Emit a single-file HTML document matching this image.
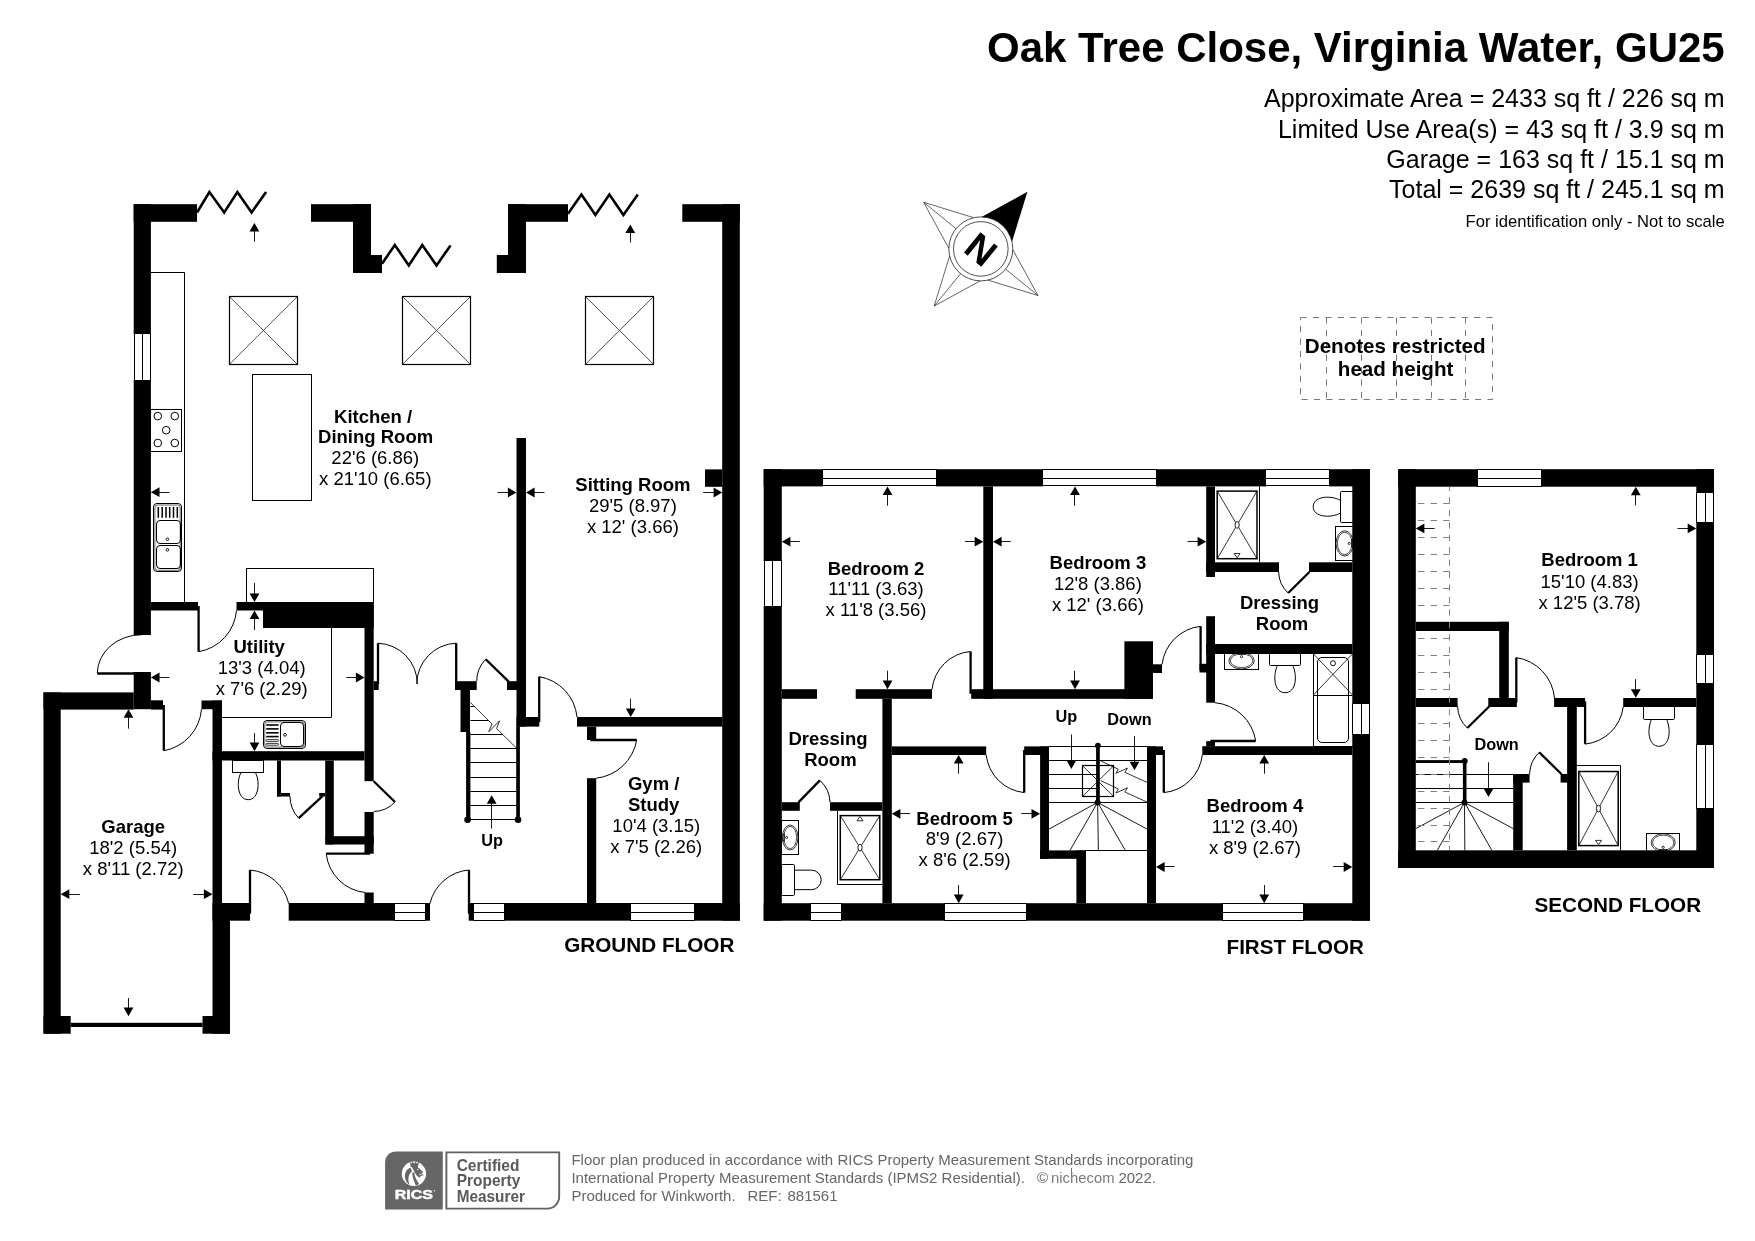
<!DOCTYPE html>
<html><head><meta charset="utf-8"><title>Oak Tree Close, Virginia Water, GU25</title>
<style>
html,body{margin:0;padding:0;background:#fff;}
body{width:1755px;height:1241px;overflow:hidden;font-family:"Liberation Sans",sans-serif;}
svg{display:block;font-family:"Liberation Sans",sans-serif;will-change:transform;}
</style></head><body>
<svg width="1755" height="1241" viewBox="0 0 1755 1241">
<rect x="0" y="0" width="1755" height="1241" fill="#fff"/>
<g id="header">
<text x="1724.7" y="62" font-size="42" font-weight="bold" text-anchor="end" fill="#000">Oak Tree Close, Virginia Water, GU25</text>
<text x="1724.7" y="107.4" font-size="25" text-anchor="end" fill="#000">Approximate Area = 2433 sq ft / 226 sq m</text>
<text x="1724.7" y="138" font-size="25" text-anchor="end" fill="#000">Limited Use Area(s) = 43 sq ft / 3.9 sq m</text>
<text x="1724.7" y="168.4" font-size="25" text-anchor="end" fill="#000">Garage = 163 sq ft / 15.1 sq m</text>
<text x="1724.7" y="198.4" font-size="25" text-anchor="end" fill="#000">Total = 2639 sq ft / 245.1 sq m</text>
<text x="1724.7" y="226.5" font-size="16.6" text-anchor="end" fill="#000">For identification only - Not to scale</text>
</g>
<g id="ground">
<path d="M150.9 272.5 H184.5 V602" fill="none" stroke="#000" stroke-width="1"/>
<rect x="150.5" y="409.5" width="31" height="42" fill="none" stroke="#000" stroke-width="1"/>
<circle cx="157.8" cy="416.1" r="3.8" fill="none" stroke="#000" stroke-width="1"/>
<circle cx="174.8" cy="416.1" r="3.8" fill="none" stroke="#000" stroke-width="1"/>
<circle cx="166.2" cy="430.2" r="3.8" fill="none" stroke="#000" stroke-width="1"/>
<circle cx="157.8" cy="443" r="3.8" fill="none" stroke="#000" stroke-width="1"/>
<circle cx="174.8" cy="443" r="3.8" fill="none" stroke="#000" stroke-width="1"/>
<rect x="153.5" y="503.5" width="28" height="68" fill="none" stroke="#000" stroke-width="1" rx="3.5"/>
<rect x="154.9" y="505" width="25.3" height="65.3" fill="none" stroke="#000" stroke-width="0.6" rx="2.8"/>
<line x1="158.3" y1="507" x2="158.3" y2="517.8" stroke="#000" stroke-width="1.5"/>
<line x1="162.2" y1="507" x2="162.2" y2="517.8" stroke="#000" stroke-width="1.5"/>
<line x1="166" y1="507" x2="166" y2="517.8" stroke="#000" stroke-width="1.5"/>
<line x1="169.7" y1="507" x2="169.7" y2="517.8" stroke="#000" stroke-width="1.5"/>
<line x1="173.5" y1="507" x2="173.5" y2="517.8" stroke="#000" stroke-width="1.5"/>
<line x1="177.3" y1="507" x2="177.3" y2="517.8" stroke="#000" stroke-width="1.5"/>
<rect x="156.5" y="520.5" width="24" height="23" fill="none" stroke="#000" stroke-width="1" rx="3.5"/>
<rect x="156.5" y="545.5" width="24" height="23" fill="none" stroke="#000" stroke-width="1" rx="3.5"/>
<circle cx="167.4" cy="539.3" r="1.3" fill="none" stroke="#000" stroke-width="0.9"/>
<circle cx="167.4" cy="549.8" r="1.3" fill="none" stroke="#000" stroke-width="0.9"/>
<rect x="229.5" y="296.5" width="68" height="68" fill="none" stroke="#000" stroke-width="1.2"/>
<line x1="229.2" y1="296.3" x2="297.6" y2="364.6" stroke="#222" stroke-width="0.8"/>
<line x1="229.2" y1="364.6" x2="297.6" y2="296.3" stroke="#222" stroke-width="0.8"/>
<rect x="402.5" y="296.5" width="68" height="68" fill="none" stroke="#000" stroke-width="1.2"/>
<line x1="402.3" y1="296.3" x2="470.7" y2="364.6" stroke="#222" stroke-width="0.8"/>
<line x1="402.3" y1="364.6" x2="470.7" y2="296.3" stroke="#222" stroke-width="0.8"/>
<rect x="585.5" y="296.5" width="68" height="68" fill="none" stroke="#000" stroke-width="1.2"/>
<line x1="585.2" y1="296.3" x2="653.8" y2="364.6" stroke="#222" stroke-width="0.8"/>
<line x1="585.2" y1="364.6" x2="653.8" y2="296.3" stroke="#222" stroke-width="0.8"/>
<rect x="252.5" y="374.5" width="59" height="126" fill="none" stroke="#000" stroke-width="1"/>
<rect x="246.5" y="568.5" width="127" height="34" fill="none" stroke="#000" stroke-width="1"/>
<path d="M331.5 628 V717.5 H222" fill="none" stroke="#000" stroke-width="1"/>
<rect x="263.5" y="720.5" width="42" height="28" fill="none" stroke="#000" stroke-width="1" rx="3.5"/>
<rect x="264.8" y="721.9" width="39.4" height="25.2" fill="none" stroke="#000" stroke-width="0.6" rx="2.8"/>
<rect x="280.5" y="722.5" width="23" height="24" fill="none" stroke="#000" stroke-width="1" rx="3.5"/>
<line x1="266.2" y1="725" x2="278.6" y2="725" stroke="#000" stroke-width="1.6"/>
<line x1="266.2" y1="728.9" x2="278.6" y2="728.9" stroke="#000" stroke-width="1.6"/>
<line x1="266.2" y1="732.8" x2="278.6" y2="732.8" stroke="#000" stroke-width="1.6"/>
<line x1="266.2" y1="736.6" x2="278.6" y2="736.6" stroke="#000" stroke-width="1.6"/>
<rect x="266.2" y="739.6" width="12.4" height="1.8" fill="none" stroke="#000" stroke-width="0.8" rx="0.9"/>
<rect x="266.2" y="743.4" width="12.4" height="1.8" fill="none" stroke="#000" stroke-width="0.8" rx="0.9"/>
<circle cx="285" cy="734.8" r="1.4" fill="none" stroke="#000" stroke-width="0.9"/>
<rect x="232.5" y="760.5" width="31" height="12" fill="none" stroke="#000" stroke-width="1"/>
<path d="M241 772.7 C236.5 780 236.8 799.7 248.2 799.7 C259.6 799.7 259.9 780 255.4 772.7" fill="none" stroke="#000" stroke-width="1"/>
<line x1="470.4" y1="734.5" x2="502.5" y2="734.5" stroke="#000" stroke-width="1"/>
<line x1="470.4" y1="748.5" x2="516.7" y2="748.5" stroke="#000" stroke-width="1"/>
<line x1="470.4" y1="762.5" x2="516.4" y2="762.5" stroke="#000" stroke-width="1"/>
<line x1="470.4" y1="777.5" x2="516.4" y2="777.5" stroke="#000" stroke-width="1"/>
<line x1="470.4" y1="791.5" x2="516.4" y2="791.5" stroke="#000" stroke-width="1"/>
<line x1="470.4" y1="805.5" x2="516.4" y2="805.5" stroke="#000" stroke-width="1"/>
<line x1="470.4" y1="819.5" x2="516.4" y2="819.5" stroke="#000" stroke-width="1"/>
<line x1="470.4" y1="720.5" x2="488.3" y2="720.5" stroke="#000" stroke-width="1"/>
<line x1="470.4" y1="706.5" x2="474" y2="706.5" stroke="#000" stroke-width="1"/>
<path d="M470.4 702.5 L492 724 L488.8 731.8 L499.5 720.8 L496.6 728.6 L516.4 748" fill="none" stroke="#000" stroke-width="0.8"/>
<rect x="466.1" y="732" width="4.3" height="87.8" fill="#000"/>
<rect x="516.2" y="726.5" width="3.7" height="93.3" fill="#000"/>
<circle cx="467.6" cy="819.7" r="3.3" fill="#000" stroke="none" stroke-width="1"/>
<circle cx="518" cy="819.7" r="3.3" fill="#000" stroke="none" stroke-width="1"/>
<line x1="491.5" y1="828.5" x2="491.5" y2="802.08" stroke="#000" stroke-width="0.9"/>
<polygon points="491.7,795.2 496.6,803.8 486.8,803.8" fill="#000"/>
<text x="492" y="845.6" font-size="16.3" font-weight="bold" text-anchor="middle" fill="#000">Up</text>
<rect x="133.7" y="204.2" width="17.2" height="129.4" fill="#000"/>
<rect x="133.7" y="380.6" width="17.2" height="254.4" fill="#000"/>
<rect x="133.7" y="672" width="17.2" height="37.2" fill="#000"/>
<rect x="133.7" y="333.6" width="17.2" height="47" fill="#fff"/>
<line x1="134.5" y1="333.6" x2="134.5" y2="380.6" stroke="#000" stroke-width="1"/>
<line x1="142.5" y1="333.6" x2="142.5" y2="380.6" stroke="#000" stroke-width="1"/>
<line x1="150.5" y1="333.6" x2="150.5" y2="380.6" stroke="#000" stroke-width="1"/>
<line x1="133.7" y1="333.5" x2="150.9" y2="333.5" stroke="#000" stroke-width="1"/>
<line x1="133.7" y1="380.5" x2="150.9" y2="380.5" stroke="#000" stroke-width="1"/>
<rect x="133.7" y="204.2" width="63.3" height="17.6" fill="#000"/>
<rect x="311" y="204.2" width="60" height="17.6" fill="#000"/>
<rect x="353" y="204.2" width="18" height="68.8" fill="#000"/>
<rect x="353" y="255" width="29" height="18" fill="#000"/>
<rect x="508" y="204.2" width="60" height="17.6" fill="#000"/>
<rect x="508" y="204.2" width="18" height="68.8" fill="#000"/>
<rect x="496.8" y="255" width="29.2" height="18" fill="#000"/>
<rect x="682.3" y="204.2" width="57.5" height="17.6" fill="#000"/>
<rect x="722.2" y="204.2" width="17.6" height="716.5" fill="#000"/>
<rect x="705" y="469.4" width="17.2" height="17.4" fill="#000"/>
<rect x="516.5" y="438" width="9.5" height="288.6" fill="#000"/>
<rect x="516.5" y="717" width="22.8" height="9.6" fill="#000"/>
<rect x="577" y="717" width="145.2" height="9.6" fill="#000"/>
<rect x="587" y="726.6" width="9.2" height="13.4" fill="#000"/>
<rect x="587" y="778.2" width="9.2" height="124.8" fill="#000"/>
<rect x="212.5" y="903" width="37.5" height="17.7" fill="#000"/>
<rect x="288.7" y="903" width="106.3" height="17.7" fill="#000"/>
<rect x="395" y="903" width="30.7" height="17.7" fill="#fff"/>
<line x1="395" y1="903.5" x2="425.7" y2="903.5" stroke="#000" stroke-width="1"/>
<line x1="395" y1="912.5" x2="425.7" y2="912.5" stroke="#000" stroke-width="1"/>
<line x1="395" y1="920.5" x2="425.7" y2="920.5" stroke="#000" stroke-width="1"/>
<line x1="394.5" y1="903" x2="394.5" y2="920.7" stroke="#000" stroke-width="1"/>
<line x1="425.5" y1="903" x2="425.5" y2="920.7" stroke="#000" stroke-width="1"/>
<rect x="425.7" y="903" width="4.3" height="17.7" fill="#000"/>
<rect x="468.7" y="903" width="5" height="17.7" fill="#000"/>
<rect x="473.7" y="903" width="30.3" height="17.7" fill="#fff"/>
<line x1="473.7" y1="903.5" x2="504" y2="903.5" stroke="#000" stroke-width="1"/>
<line x1="473.7" y1="912.5" x2="504" y2="912.5" stroke="#000" stroke-width="1"/>
<line x1="473.7" y1="920.5" x2="504" y2="920.5" stroke="#000" stroke-width="1"/>
<line x1="473.5" y1="903" x2="473.5" y2="920.7" stroke="#000" stroke-width="1"/>
<line x1="504.5" y1="903" x2="504.5" y2="920.7" stroke="#000" stroke-width="1"/>
<rect x="504" y="903" width="126" height="17.7" fill="#000"/>
<rect x="630" y="903" width="64.2" height="17.7" fill="#fff"/>
<line x1="630" y1="903.5" x2="694.2" y2="903.5" stroke="#000" stroke-width="1"/>
<line x1="630" y1="912.5" x2="694.2" y2="912.5" stroke="#000" stroke-width="1"/>
<line x1="630" y1="920.5" x2="694.2" y2="920.5" stroke="#000" stroke-width="1"/>
<line x1="630.5" y1="903" x2="630.5" y2="920.7" stroke="#000" stroke-width="1"/>
<line x1="694.5" y1="903" x2="694.5" y2="920.7" stroke="#000" stroke-width="1"/>
<rect x="694.2" y="903" width="45.6" height="17.7" fill="#000"/>
<rect x="150.9" y="602" width="47.1" height="8.5" fill="#000"/>
<rect x="236.5" y="602" width="26.5" height="8.5" fill="#000"/>
<rect x="263" y="602" width="110.7" height="26" fill="#000"/>
<rect x="364.5" y="602" width="9.2" height="179.2" fill="#000"/>
<rect x="364.5" y="812" width="9.2" height="41.7" fill="#000"/>
<rect x="364.5" y="892.5" width="9.2" height="10.5" fill="#000"/>
<rect x="212.5" y="751.2" width="152" height="9.3" fill="#000"/>
<rect x="43.5" y="692.4" width="90.2" height="17.2" fill="#000"/>
<rect x="150.9" y="700.3" width="12.1" height="9.3" fill="#000"/>
<rect x="43.5" y="692.5" width="17.2" height="341.2" fill="#000"/>
<rect x="43.5" y="1016" width="27.2" height="17.7" fill="#000"/>
<rect x="202.5" y="1016" width="27.5" height="17.7" fill="#000"/>
<rect x="70.7" y="1022.8" width="131.8" height="4.2" fill="#000"/>
<rect x="212.5" y="700.5" width="9.5" height="202.5" fill="#000"/>
<rect x="212.5" y="903" width="17.5" height="130.7" fill="#000"/>
<rect x="201.5" y="700.5" width="20.5" height="8.7" fill="#000"/>
<rect x="277" y="760.5" width="4" height="36" fill="#000"/>
<rect x="277" y="793" width="13" height="3.5" fill="#000"/>
<rect x="319.2" y="793" width="6.1" height="3.5" fill="#000"/>
<rect x="325.2" y="760.5" width="8.6" height="84" fill="#000"/>
<rect x="325.5" y="836.2" width="48.2" height="8.3" fill="#000"/>
<rect x="373.7" y="681.2" width="5" height="8.8" fill="#000"/>
<rect x="455" y="681.2" width="21.7" height="8.8" fill="#000"/>
<rect x="460.5" y="690" width="9.5" height="42" fill="#000"/>
<rect x="507" y="681.2" width="10" height="8.8" fill="#000"/>
<path d="M197 212.5 L209.4 192 L224.2 212.5 L237.4 192 L251.6 212.5 L266.1 192" fill="none" stroke="#000" stroke-width="2.6"/>
<path d="M382 263.7 L394.8 245 L408.8 265.4 L422.3 245 L436.5 265.4 L450.5 245.5" fill="none" stroke="#000" stroke-width="2.6"/>
<path d="M568 213.7 L581.4 194.5 L595.4 215 L609.4 194.5 L623.4 215 L637.8 194.5" fill="none" stroke="#000" stroke-width="2.6"/>
<line x1="198.6" y1="606" x2="198.6" y2="651.7" stroke="#000" stroke-width="2.3"/>
<path d="M198.6 651.7 A45.7 45.7 0 0 0 236.5 610.5" fill="none" stroke="#000" stroke-width="1"/>
<line x1="143" y1="673.5" x2="97.3" y2="673.5" stroke="#000" stroke-width="2.4"/>
<path d="M97.3 673.5 A44.5 38.8 0 0 1 141.8 634.7" fill="none" stroke="#000" stroke-width="1"/>
<line x1="163.8" y1="705" x2="163.8" y2="750.7" stroke="#000" stroke-width="2.3"/>
<path d="M163.8 750.7 A45.7 45.7 0 0 0 201.5 709.2" fill="none" stroke="#000" stroke-width="1"/>
<line x1="378" y1="684" x2="378" y2="643.2" stroke="#000" stroke-width="2.3"/>
<path d="M378 643.2 A40.8 40.8 0 0 1 417.3 684" fill="none" stroke="#000" stroke-width="1"/>
<line x1="456.2" y1="684" x2="456.2" y2="643.2" stroke="#000" stroke-width="2.3"/>
<path d="M456.2 643.2 A40.8 40.8 0 0 0 416.8 684" fill="none" stroke="#000" stroke-width="1"/>
<line x1="508.7" y1="681.6" x2="485.7" y2="659.2" stroke="#000" stroke-width="2.3"/>
<path d="M485.7 659.2 A32.11 32.11 0 0 0 476.7 681.2" fill="none" stroke="#000" stroke-width="1"/>
<line x1="539.2" y1="722" x2="539.2" y2="676.7" stroke="#000" stroke-width="2.3"/>
<path d="M539.2 676.7 A45.3 45.3 0 0 1 577 717" fill="none" stroke="#000" stroke-width="1"/>
<line x1="590.5" y1="740" x2="636.7" y2="740" stroke="#000" stroke-width="2.3"/>
<path d="M636.7 740 A46.2 46.2 0 0 1 596.2 778.2" fill="none" stroke="#000" stroke-width="1"/>
<line x1="322.5" y1="796.2" x2="298.7" y2="818.2" stroke="#000" stroke-width="2.3"/>
<path d="M298.7 818.2 A32.41 32.41 0 0 1 290 796.2" fill="none" stroke="#000" stroke-width="1"/>
<line x1="373.7" y1="781.2" x2="395" y2="802" stroke="#000" stroke-width="2.3"/>
<path d="M395 802 A29.77 29.77 0 0 1 373.7 811.5" fill="none" stroke="#000" stroke-width="1"/>
<line x1="370" y1="853.7" x2="326.2" y2="853.7" stroke="#000" stroke-width="2.3"/>
<path d="M326.2 853.7 A43.8 43.8 0 0 0 365 892.5" fill="none" stroke="#000" stroke-width="1"/>
<line x1="250" y1="913.7" x2="250" y2="870" stroke="#000" stroke-width="2.3"/>
<path d="M250 870 A43.7 43.7 0 0 1 288.7 903.5" fill="none" stroke="#000" stroke-width="1"/>
<line x1="469" y1="913.7" x2="469" y2="870" stroke="#000" stroke-width="2.3"/>
<path d="M469 870 A43.7 43.7 0 0 0 430 903.5" fill="none" stroke="#000" stroke-width="1"/>
<line x1="254.5" y1="241.7" x2="254.5" y2="229.88" stroke="#000" stroke-width="0.9"/>
<polygon points="254.4,223 259.3,231.6 249.5,231.6" fill="#000"/>
<line x1="630.5" y1="242.5" x2="630.5" y2="231.38" stroke="#000" stroke-width="0.9"/>
<polygon points="630.3,224.5 635.2,233.1 625.4,233.1" fill="#000"/>
<line x1="169.5" y1="492.5" x2="157.78" y2="492.5" stroke="#000" stroke-width="0.9"/>
<polygon points="150.9,492.2 159.5,487.3 159.5,497.1" fill="#000"/>
<line x1="497.5" y1="492.5" x2="509.62" y2="492.5" stroke="#000" stroke-width="0.9"/>
<polygon points="516.5,492.5 507.9,497.4 507.9,487.6" fill="#000"/>
<line x1="544.5" y1="492.5" x2="532.88" y2="492.5" stroke="#000" stroke-width="0.9"/>
<polygon points="526,492.5 534.6,487.6 534.6,497.4" fill="#000"/>
<line x1="703.2" y1="492.5" x2="715.32" y2="492.5" stroke="#000" stroke-width="0.9"/>
<polygon points="722.2,492.5 713.6,497.4 713.6,487.6" fill="#000"/>
<line x1="254.5" y1="583" x2="254.5" y2="595.12" stroke="#000" stroke-width="0.9"/>
<polygon points="254.5,602 249.6,593.4 259.4,593.4" fill="#000"/>
<line x1="254.5" y1="630" x2="254.5" y2="617.38" stroke="#000" stroke-width="0.9"/>
<polygon points="254.5,610.5 259.4,619.1 249.6,619.1" fill="#000"/>
<line x1="169.5" y1="677.5" x2="157.78" y2="677.5" stroke="#000" stroke-width="0.9"/>
<polygon points="150.9,677.5 159.5,672.6 159.5,682.4" fill="#000"/>
<line x1="346.2" y1="677.5" x2="357.62" y2="677.5" stroke="#000" stroke-width="0.9"/>
<polygon points="364.5,677.5 355.9,682.4 355.9,672.6" fill="#000"/>
<line x1="254.5" y1="733" x2="254.5" y2="744.32" stroke="#000" stroke-width="0.9"/>
<polygon points="254.5,751.2 249.6,742.6 259.4,742.6" fill="#000"/>
<line x1="128.5" y1="728.7" x2="128.5" y2="716.08" stroke="#000" stroke-width="0.9"/>
<polygon points="128.5,709.2 133.4,717.8 123.6,717.8" fill="#000"/>
<line x1="80" y1="894.5" x2="67.58" y2="894.5" stroke="#000" stroke-width="0.9"/>
<polygon points="60.7,894.2 69.3,889.3 69.3,899.1" fill="#000"/>
<line x1="193.2" y1="894.5" x2="205.62" y2="894.5" stroke="#000" stroke-width="0.9"/>
<polygon points="212.5,894.2 203.9,899.1 203.9,889.3" fill="#000"/>
<line x1="128.5" y1="998" x2="128.5" y2="1009.32" stroke="#000" stroke-width="0.9"/>
<polygon points="128.5,1016.2 123.6,1007.6 133.4,1007.6" fill="#000"/>
<line x1="630.5" y1="698.7" x2="630.5" y2="710.12" stroke="#000" stroke-width="0.9"/>
<polygon points="630.7,717 625.8,708.4 635.6,708.4" fill="#000"/>
<text x="373.1" y="423" font-size="18.5" font-weight="bold" text-anchor="middle" fill="#000">Kitchen /</text>
<text x="375.6" y="443" font-size="18.5" font-weight="bold" text-anchor="middle" fill="#000">Dining Room</text>
<text x="375.3" y="464.2" font-size="18.5" text-anchor="middle" fill="#000">22'6 (6.86)</text>
<text x="375.3" y="485" font-size="18.5" text-anchor="middle" fill="#000">x 21'10 (6.65)</text>
<text x="632.9" y="490.5" font-size="18.5" font-weight="bold" text-anchor="middle" fill="#000">Sitting Room</text>
<text x="632.9" y="511.7" font-size="18.5" text-anchor="middle" fill="#000">29'5 (8.97)</text>
<text x="632.9" y="532.9" font-size="18.5" text-anchor="middle" fill="#000">x 12' (3.66)</text>
<text x="259.2" y="652.5" font-size="18.5" font-weight="bold" text-anchor="middle" fill="#000">Utility</text>
<text x="261.7" y="673.7" font-size="18.5" text-anchor="middle" fill="#000">13'3 (4.04)</text>
<text x="261.7" y="695" font-size="18.5" text-anchor="middle" fill="#000">x 7'6 (2.29)</text>
<text x="133.2" y="832.5" font-size="18.5" font-weight="bold" text-anchor="middle" fill="#000">Garage</text>
<text x="133.2" y="853.7" font-size="18.5" text-anchor="middle" fill="#000">18'2 (5.54)</text>
<text x="133.2" y="874.9" font-size="18.5" text-anchor="middle" fill="#000">x 8'11 (2.72)</text>
<text x="653.7" y="789.5" font-size="18.5" font-weight="bold" text-anchor="middle" fill="#000">Gym /</text>
<text x="653.7" y="810.65" font-size="18.5" font-weight="bold" text-anchor="middle" fill="#000">Study</text>
<text x="656.3" y="831.8" font-size="18.5" text-anchor="middle" fill="#000">10'4 (3.15)</text>
<text x="656.3" y="852.95" font-size="18.5" text-anchor="middle" fill="#000">x 7'5 (2.26)</text>
<text x="649.3" y="952" font-size="20.7" font-weight="bold" text-anchor="middle" fill="#000">GROUND FLOOR</text>
</g>
<g id="first">
<path d="M837.5 810.8 V884.5 H882.3" fill="none" stroke="#000" stroke-width="1"/>
<rect x="840.3" y="815.6" width="39.5" height="64.1" fill="none" stroke="#000" stroke-width="1.5"/>
<line x1="840.3" y1="815.6" x2="879.8" y2="879.7" stroke="#000" stroke-width="0.8"/>
<line x1="840.3" y1="879.7" x2="879.8" y2="815.6" stroke="#000" stroke-width="0.8"/>
<ellipse cx="860.05" cy="847.65" rx="2.1" ry="3.4" fill="#fff" stroke="#000" stroke-width="0.9"/>
<polygon points="857.05,820.8 863.05,820.8 860.05,816.5" fill="#fff" stroke="#000" stroke-width="0.8"/>
<rect x="781.5" y="820.5" width="17" height="34" fill="none" stroke="#000" stroke-width="1"/>
<ellipse cx="790.2" cy="837.5" rx="7.8" ry="12.5" fill="none" stroke="#000" stroke-width="0.8"/>
<ellipse cx="790.2" cy="837.5" rx="6.4" ry="11.1" fill="none" stroke="#000" stroke-width="0.7"/>
<circle cx="786.6" cy="837.5" r="1.1" fill="none" stroke="#000" stroke-width="0.8"/>
<rect x="783" y="833.9" width="1.4" height="7.2" fill="none" stroke="#000" stroke-width="0.7"/>
<rect x="781.5" y="864.5" width="13" height="31" fill="none" stroke="#000" stroke-width="1" rx="1.2"/>
<path d="M794.2 870.15 H811.45 A9.75 9.75 0 0 1 811.45 889.65 H794.2" fill="none" stroke="#000" stroke-width="1"/>
<line x1="1259.5" y1="486.4" x2="1259.5" y2="562.3" stroke="#000" stroke-width="1"/>
<rect x="1217.2" y="491.1" width="39.8" height="67.6" fill="none" stroke="#000" stroke-width="1.5"/>
<line x1="1217.2" y1="491.1" x2="1257" y2="558.7" stroke="#000" stroke-width="0.8"/>
<line x1="1217.2" y1="558.7" x2="1257" y2="491.1" stroke="#000" stroke-width="0.8"/>
<ellipse cx="1237.1" cy="524.9" rx="2.1" ry="3.4" fill="#fff" stroke="#000" stroke-width="0.9"/>
<polygon points="1234.1,553.5 1240.1,553.5 1237.1,557.8" fill="#fff" stroke="#000" stroke-width="0.8"/>
<rect x="1340.5" y="491.5" width="14" height="31" fill="none" stroke="#000" stroke-width="1" rx="1.2"/>
<path d="M1340.5 500.38 C1330.94 494.97 1313.2 495.99 1313.2 506.7 C1313.2 517.41 1330.94 518.43 1340.5 513.02" fill="none" stroke="#000" stroke-width="1"/>
<rect x="1335.5" y="526.5" width="19" height="34" fill="none" stroke="#000" stroke-width="1"/>
<ellipse cx="1344.7" cy="543.4" rx="8.7" ry="12.6" fill="none" stroke="#000" stroke-width="0.8"/>
<ellipse cx="1344.7" cy="543.4" rx="7.3" ry="11.2" fill="none" stroke="#000" stroke-width="0.7"/>
<circle cx="1349.2" cy="543.4" r="1.1" fill="none" stroke="#000" stroke-width="0.8"/>
<rect x="1351.4" y="539.8" width="1.4" height="7.2" fill="none" stroke="#000" stroke-width="0.7"/>
<rect x="1224.5" y="652.5" width="34" height="17" fill="none" stroke="#000" stroke-width="1"/>
<ellipse cx="1241.55" cy="660.75" rx="12.65" ry="8.25" fill="none" stroke="#000" stroke-width="0.8"/>
<ellipse cx="1241.55" cy="660.75" rx="11.25" ry="6.85" fill="none" stroke="#000" stroke-width="0.7"/>
<circle cx="1241.55" cy="656.7" r="1.1" fill="none" stroke="#000" stroke-width="0.8"/>
<rect x="1237.95" y="653.1" width="7.2" height="1.4" fill="none" stroke="#000" stroke-width="0.7"/>
<rect x="1269.5" y="652.5" width="31" height="13" fill="none" stroke="#000" stroke-width="1" rx="1.2"/>
<path d="M1277.3 665.7 C1272.62 676.5 1274.18 692.7 1285.1 692.7 C1296.02 692.7 1297.58 676.5 1292.9 665.7" fill="none" stroke="#000" stroke-width="1"/>
<rect x="1313.5" y="652.5" width="41" height="94" fill="none" stroke="#000" stroke-width="1"/>
<line x1="1313.6" y1="654" x2="1352.3" y2="694.8" stroke="#000" stroke-width="0.8"/>
<line x1="1313.6" y1="694.8" x2="1352.3" y2="654" stroke="#000" stroke-width="0.8"/>
<line x1="1313.6" y1="695.5" x2="1352.3" y2="695.5" stroke="#000" stroke-width="1.2"/>
<rect x="1317.5" y="657.5" width="31" height="85" fill="none" stroke="#000" stroke-width="1" rx="4.5"/>
<circle cx="1333" cy="663.2" r="2.5" fill="none" stroke="#000" stroke-width="0.9"/>
<line x1="1049" y1="746.5" x2="1147" y2="746.5" stroke="#000" stroke-width="1"/>
<line x1="1049" y1="760.5" x2="1147" y2="760.5" stroke="#000" stroke-width="1"/>
<line x1="1049" y1="774.5" x2="1097" y2="774.5" stroke="#000" stroke-width="1"/>
<line x1="1049" y1="788.5" x2="1097" y2="788.5" stroke="#000" stroke-width="1"/>
<line x1="1049" y1="802.5" x2="1147" y2="802.5" stroke="#000" stroke-width="1"/>
<line x1="1085" y1="850.5" x2="1147" y2="850.5" stroke="#000" stroke-width="1"/>
<line x1="1097.6" y1="802.4" x2="1049" y2="829.1" stroke="#000" stroke-width="0.9"/>
<line x1="1097.6" y1="802.4" x2="1070" y2="850.4" stroke="#000" stroke-width="0.9"/>
<line x1="1097.6" y1="802.4" x2="1098.4" y2="850.4" stroke="#000" stroke-width="0.9"/>
<line x1="1097.6" y1="802.4" x2="1125.3" y2="850.4" stroke="#000" stroke-width="0.9"/>
<line x1="1097.6" y1="802.4" x2="1147" y2="829.1" stroke="#000" stroke-width="0.9"/>
<rect x="1082.5" y="765.5" width="31" height="31" fill="none" stroke="#000" stroke-width="1.2"/>
<line x1="1082.4" y1="765.6" x2="1113.8" y2="796.6" stroke="#000" stroke-width="0.8"/>
<line x1="1082.4" y1="796.6" x2="1113.8" y2="765.6" stroke="#000" stroke-width="0.8"/>
<path d="M1100.8 761 L1118.4 769.2 L1115.9 773.3 L1127.5 768.1 L1124.8 772.3 L1147 782.3" fill="none" stroke="#000" stroke-width="0.8"/>
<path d="M1100.8 780.7 L1118.4 788.9 L1115.9 793 L1127.5 787.8 L1124.8 792 L1147 802" fill="none" stroke="#000" stroke-width="0.8"/>
<rect x="1096.1" y="745.5" width="3.7" height="57.1" fill="#000"/>
<circle cx="1097.9" cy="745.6" r="2.9" fill="#000" stroke="none" stroke-width="1"/>
<circle cx="1097.6" cy="802.4" r="2.9" fill="#000" stroke="none" stroke-width="1"/>
<line x1="1071.5" y1="734.5" x2="1071.5" y2="762.02" stroke="#000" stroke-width="0.9"/>
<polygon points="1071.4,768.9 1066.5,760.3 1076.3,760.3" fill="#000"/>
<line x1="1134.5" y1="735.9" x2="1134.5" y2="763.42" stroke="#000" stroke-width="0.9"/>
<polygon points="1134.5,770.3 1129.6,761.7 1139.4,761.7" fill="#000"/>
<text x="1066.4" y="721.8" font-size="16.3" font-weight="bold" text-anchor="middle" fill="#000">Up</text>
<text x="1129.5" y="724.8" font-size="16.3" font-weight="bold" text-anchor="middle" fill="#000">Down</text>
<rect x="763.7" y="469.2" width="18.1" height="91.3" fill="#000"/>
<rect x="763.7" y="607" width="18.1" height="313.7" fill="#000"/>
<rect x="763.7" y="560.5" width="18.1" height="46.5" fill="#fff"/>
<line x1="764.5" y1="560.5" x2="764.5" y2="607" stroke="#000" stroke-width="1"/>
<line x1="772.5" y1="560.5" x2="772.5" y2="607" stroke="#000" stroke-width="1"/>
<line x1="781.5" y1="560.5" x2="781.5" y2="607" stroke="#000" stroke-width="1"/>
<line x1="763.7" y1="560.5" x2="781.8" y2="560.5" stroke="#000" stroke-width="1"/>
<line x1="763.7" y1="606.5" x2="781.8" y2="606.5" stroke="#000" stroke-width="1"/>
<rect x="763.7" y="469.2" width="58.8" height="17.2" fill="#000"/>
<rect x="937" y="469.2" width="105" height="17.2" fill="#000"/>
<rect x="1157" y="469.2" width="108.8" height="17.2" fill="#000"/>
<rect x="1329.6" y="469.2" width="40.4" height="17.2" fill="#000"/>
<rect x="822.5" y="469.2" width="114.5" height="17.2" fill="#fff"/>
<line x1="822.5" y1="469.5" x2="937" y2="469.5" stroke="#000" stroke-width="1"/>
<line x1="822.5" y1="478.5" x2="937" y2="478.5" stroke="#000" stroke-width="1"/>
<line x1="822.5" y1="485.5" x2="937" y2="485.5" stroke="#000" stroke-width="1"/>
<line x1="822.5" y1="469.2" x2="822.5" y2="486.4" stroke="#000" stroke-width="1"/>
<line x1="936.5" y1="469.2" x2="936.5" y2="486.4" stroke="#000" stroke-width="1"/>
<rect x="1042" y="469.2" width="115" height="17.2" fill="#fff"/>
<line x1="1042" y1="469.5" x2="1157" y2="469.5" stroke="#000" stroke-width="1"/>
<line x1="1042" y1="478.5" x2="1157" y2="478.5" stroke="#000" stroke-width="1"/>
<line x1="1042" y1="485.5" x2="1157" y2="485.5" stroke="#000" stroke-width="1"/>
<line x1="1042.5" y1="469.2" x2="1042.5" y2="486.4" stroke="#000" stroke-width="1"/>
<line x1="1156.5" y1="469.2" x2="1156.5" y2="486.4" stroke="#000" stroke-width="1"/>
<rect x="1265.8" y="469.2" width="63.8" height="17.2" fill="#fff"/>
<line x1="1265.8" y1="469.5" x2="1329.6" y2="469.5" stroke="#000" stroke-width="1"/>
<line x1="1265.8" y1="478.5" x2="1329.6" y2="478.5" stroke="#000" stroke-width="1"/>
<line x1="1265.8" y1="485.5" x2="1329.6" y2="485.5" stroke="#000" stroke-width="1"/>
<line x1="1265.5" y1="469.2" x2="1265.5" y2="486.4" stroke="#000" stroke-width="1"/>
<line x1="1329.5" y1="469.2" x2="1329.5" y2="486.4" stroke="#000" stroke-width="1"/>
<rect x="1352.3" y="469.2" width="17.7" height="234.5" fill="#000"/>
<rect x="1352.3" y="734.2" width="17.7" height="186.5" fill="#000"/>
<rect x="1352.3" y="703.7" width="17.7" height="30.5" fill="#fff"/>
<line x1="1352.5" y1="703.7" x2="1352.5" y2="734.2" stroke="#000" stroke-width="1"/>
<line x1="1361.5" y1="703.7" x2="1361.5" y2="734.2" stroke="#000" stroke-width="1"/>
<line x1="1369.5" y1="703.7" x2="1369.5" y2="734.2" stroke="#000" stroke-width="1"/>
<line x1="1352.3" y1="703.5" x2="1370" y2="703.5" stroke="#000" stroke-width="1"/>
<line x1="1352.3" y1="734.5" x2="1370" y2="734.5" stroke="#000" stroke-width="1"/>
<rect x="763.7" y="903.2" width="47.1" height="17.5" fill="#000"/>
<rect x="841.2" y="903.2" width="103.8" height="17.5" fill="#000"/>
<rect x="1026.3" y="903.2" width="195.7" height="17.5" fill="#000"/>
<rect x="1303.3" y="903.2" width="66.7" height="17.5" fill="#000"/>
<rect x="810.8" y="903.2" width="30.4" height="17.5" fill="#fff"/>
<line x1="810.8" y1="903.5" x2="841.2" y2="903.5" stroke="#000" stroke-width="1"/>
<line x1="810.8" y1="912.5" x2="841.2" y2="912.5" stroke="#000" stroke-width="1"/>
<line x1="810.8" y1="920.5" x2="841.2" y2="920.5" stroke="#000" stroke-width="1"/>
<line x1="810.5" y1="903.2" x2="810.5" y2="920.7" stroke="#000" stroke-width="1"/>
<line x1="841.5" y1="903.2" x2="841.5" y2="920.7" stroke="#000" stroke-width="1"/>
<rect x="945" y="903.2" width="81.3" height="17.5" fill="#fff"/>
<line x1="945" y1="903.5" x2="1026.3" y2="903.5" stroke="#000" stroke-width="1"/>
<line x1="945" y1="912.5" x2="1026.3" y2="912.5" stroke="#000" stroke-width="1"/>
<line x1="945" y1="920.5" x2="1026.3" y2="920.5" stroke="#000" stroke-width="1"/>
<line x1="944.5" y1="903.2" x2="944.5" y2="920.7" stroke="#000" stroke-width="1"/>
<line x1="1026.5" y1="903.2" x2="1026.5" y2="920.7" stroke="#000" stroke-width="1"/>
<rect x="1222" y="903.2" width="81.3" height="17.5" fill="#fff"/>
<line x1="1222" y1="903.5" x2="1303.3" y2="903.5" stroke="#000" stroke-width="1"/>
<line x1="1222" y1="912.5" x2="1303.3" y2="912.5" stroke="#000" stroke-width="1"/>
<line x1="1222" y1="920.5" x2="1303.3" y2="920.5" stroke="#000" stroke-width="1"/>
<line x1="1222.5" y1="903.2" x2="1222.5" y2="920.7" stroke="#000" stroke-width="1"/>
<line x1="1303.5" y1="903.2" x2="1303.5" y2="920.7" stroke="#000" stroke-width="1"/>
<rect x="983.3" y="486.4" width="9.7" height="212.4" fill="#000"/>
<rect x="781.8" y="689.2" width="35.2" height="9.6" fill="#000"/>
<rect x="855.7" y="689.2" width="76.3" height="9.6" fill="#000"/>
<rect x="971.2" y="689.2" width="181.8" height="9.6" fill="#000"/>
<rect x="1124.4" y="641.3" width="28.6" height="57.5" fill="#000"/>
<rect x="1153" y="664.3" width="9" height="8.7" fill="#000"/>
<rect x="882.4" y="698.8" width="9.4" height="204.4" fill="#000"/>
<rect x="891.8" y="746.4" width="94.4" height="8.6" fill="#000"/>
<rect x="1024.2" y="746.4" width="24.6" height="8.6" fill="#000"/>
<rect x="1040.1" y="746.4" width="8.9" height="112.4" fill="#000"/>
<rect x="1040.1" y="850.4" width="45.9" height="8.4" fill="#000"/>
<rect x="1076.4" y="850.4" width="9.6" height="52.8" fill="#000"/>
<rect x="1147" y="746.4" width="9" height="156.8" fill="#000"/>
<rect x="1147" y="746.4" width="16" height="8.6" fill="#000"/>
<rect x="1206.2" y="486.4" width="8.8" height="90.6" fill="#000"/>
<rect x="1206.2" y="562.3" width="72.8" height="9.7" fill="#000"/>
<rect x="1309" y="562.3" width="43.3" height="9.7" fill="#000"/>
<rect x="1206.2" y="616.2" width="8.8" height="86.5" fill="#000"/>
<rect x="1206.2" y="644" width="146.1" height="10" fill="#000"/>
<rect x="1199.5" y="663.8" width="7.5" height="8.7" fill="#000"/>
<rect x="1202.3" y="746.2" width="150" height="8.8" fill="#000"/>
<rect x="1206.2" y="741.2" width="8.8" height="5.2" fill="#000"/>
<rect x="781.8" y="802.2" width="18" height="8.6" fill="#000"/>
<rect x="830" y="802.2" width="52.4" height="8.6" fill="#000"/>
<line x1="970.6" y1="693.7" x2="970.6" y2="651.5" stroke="#000" stroke-width="2.3"/>
<path d="M970.6 651.5 A42.2 42.2 0 0 0 932 689.5" fill="none" stroke="#000" stroke-width="1"/>
<line x1="798.4" y1="802.4" x2="819.9" y2="780.4" stroke="#000" stroke-width="2.3"/>
<path d="M819.9 780.4 A30.76 30.76 0 0 1 830 802.2" fill="none" stroke="#000" stroke-width="1"/>
<line x1="1024.2" y1="750" x2="1024.2" y2="792.6" stroke="#000" stroke-width="2.3"/>
<path d="M1024.2 792.6 A42.6 42.6 0 0 1 986.2 755" fill="none" stroke="#000" stroke-width="1"/>
<line x1="1163.8" y1="750" x2="1163.8" y2="792.6" stroke="#000" stroke-width="2.3"/>
<path d="M1163.8 792.6 A42.6 42.6 0 0 0 1202.3 755" fill="none" stroke="#000" stroke-width="1"/>
<line x1="1200.6" y1="670" x2="1200.6" y2="626.3" stroke="#000" stroke-width="2.3"/>
<path d="M1200.6 626.3 A43.7 43.7 0 0 0 1162 664.5" fill="none" stroke="#000" stroke-width="1"/>
<line x1="1309.4" y1="572" x2="1288.2" y2="593" stroke="#000" stroke-width="2.3"/>
<path d="M1288.2 593 A29.84 29.84 0 0 1 1278.6 572" fill="none" stroke="#000" stroke-width="1"/>
<line x1="1210.4" y1="741" x2="1255.7" y2="741" stroke="#000" stroke-width="2.3"/>
<path d="M1255.7 741 A45.3 45.3 0 0 0 1215 702.7" fill="none" stroke="#000" stroke-width="1"/>
<line x1="887.5" y1="505.7" x2="887.5" y2="493.28" stroke="#000" stroke-width="0.9"/>
<polygon points="887.5,486.4 892.4,495 882.6,495" fill="#000"/>
<line x1="1074.5" y1="505.7" x2="1074.5" y2="493.28" stroke="#000" stroke-width="0.9"/>
<polygon points="1075,486.4 1079.9,495 1070.1,495" fill="#000"/>
<line x1="799.8" y1="541.5" x2="788.68" y2="541.5" stroke="#000" stroke-width="0.9"/>
<polygon points="781.8,541.7 790.4,536.8 790.4,546.6" fill="#000"/>
<line x1="965" y1="541.5" x2="976.42" y2="541.5" stroke="#000" stroke-width="0.9"/>
<polygon points="983.3,541.7 974.7,546.6 974.7,536.8" fill="#000"/>
<line x1="1010.8" y1="541.5" x2="999.88" y2="541.5" stroke="#000" stroke-width="0.9"/>
<polygon points="993,541.7 1001.6,536.8 1001.6,546.6" fill="#000"/>
<line x1="1187.5" y1="541.5" x2="1199.32" y2="541.5" stroke="#000" stroke-width="0.9"/>
<polygon points="1206.2,541.7 1197.6,546.6 1197.6,536.8" fill="#000"/>
<line x1="887.5" y1="670.7" x2="887.5" y2="682.32" stroke="#000" stroke-width="0.9"/>
<polygon points="887.5,689.2 882.6,680.6 892.4,680.6" fill="#000"/>
<line x1="1074.5" y1="670.7" x2="1074.5" y2="682.32" stroke="#000" stroke-width="0.9"/>
<polygon points="1075,689.2 1070.1,680.6 1079.9,680.6" fill="#000"/>
<line x1="958.5" y1="773.7" x2="958.5" y2="761.88" stroke="#000" stroke-width="0.9"/>
<polygon points="958.7,755 963.6,763.6 953.8,763.6" fill="#000"/>
<line x1="1264.5" y1="773.7" x2="1264.5" y2="761.88" stroke="#000" stroke-width="0.9"/>
<polygon points="1264.2,755 1269.1,763.6 1259.3,763.6" fill="#000"/>
<line x1="910.1" y1="813.5" x2="898.68" y2="813.5" stroke="#000" stroke-width="0.9"/>
<polygon points="891.8,813.8 900.4,808.9 900.4,818.7" fill="#000"/>
<line x1="1021.3" y1="813.5" x2="1033.22" y2="813.5" stroke="#000" stroke-width="0.9"/>
<polygon points="1040.1,813.8 1031.5,818.7 1031.5,808.9" fill="#000"/>
<line x1="958.5" y1="885" x2="958.5" y2="896.32" stroke="#000" stroke-width="0.9"/>
<polygon points="958.7,903.2 953.8,894.6 963.6,894.6" fill="#000"/>
<line x1="1264.5" y1="885" x2="1264.5" y2="896.32" stroke="#000" stroke-width="0.9"/>
<polygon points="1264.2,903.2 1259.3,894.6 1269.1,894.6" fill="#000"/>
<line x1="1174.6" y1="866.5" x2="1162.88" y2="866.5" stroke="#000" stroke-width="0.9"/>
<polygon points="1156,867 1164.6,862.1 1164.6,871.9" fill="#000"/>
<line x1="1333.1" y1="866.5" x2="1345.42" y2="866.5" stroke="#000" stroke-width="0.9"/>
<polygon points="1352.3,867 1343.7,871.9 1343.7,862.1" fill="#000"/>
<text x="876" y="574.5" font-size="18.5" font-weight="bold" text-anchor="middle" fill="#000">Bedroom 2</text>
<text x="876" y="595.4" font-size="18.5" text-anchor="middle" fill="#000">11'11 (3.63)</text>
<text x="876" y="616.3" font-size="18.5" text-anchor="middle" fill="#000">x 11'8 (3.56)</text>
<text x="1097.9" y="568.7" font-size="18.5" font-weight="bold" text-anchor="middle" fill="#000">Bedroom 3</text>
<text x="1097.9" y="589.8" font-size="18.5" text-anchor="middle" fill="#000">12'8 (3.86)</text>
<text x="1097.9" y="610.9" font-size="18.5" text-anchor="middle" fill="#000">x 12' (3.66)</text>
<text x="828" y="745" font-size="18.5" font-weight="bold" text-anchor="middle" fill="#000">Dressing</text>
<text x="830.4" y="765.6" font-size="18.5" font-weight="bold" text-anchor="middle" fill="#000">Room</text>
<text x="1279.6" y="608.8" font-size="18.5" font-weight="bold" text-anchor="middle" fill="#000">Dressing</text>
<text x="1282" y="629.5" font-size="18.5" font-weight="bold" text-anchor="middle" fill="#000">Room</text>
<text x="964.6" y="824.5" font-size="18.5" font-weight="bold" text-anchor="middle" fill="#000">Bedroom 5</text>
<text x="964.6" y="845.4" font-size="18.5" text-anchor="middle" fill="#000">8'9 (2.67)</text>
<text x="964.6" y="866.3" font-size="18.5" text-anchor="middle" fill="#000">x 8'6 (2.59)</text>
<text x="1254.9" y="811.8" font-size="18.5" font-weight="bold" text-anchor="middle" fill="#000">Bedroom 4</text>
<text x="1254.9" y="832.8" font-size="18.5" text-anchor="middle" fill="#000">11'2 (3.40)</text>
<text x="1254.9" y="853.8" font-size="18.5" text-anchor="middle" fill="#000">x 8'9 (2.67)</text>
<text x="1295.2" y="953.7" font-size="20.6" font-weight="bold" text-anchor="middle" fill="#000">FIRST FLOOR</text>
</g>
<g id="second">
<path d="M1576.8 765.5 H1620.5 V850.3" fill="none" stroke="#000" stroke-width="1"/>
<rect x="1578.8" y="771.5" width="39.4" height="74.1" fill="none" stroke="#000" stroke-width="1.5"/>
<line x1="1578.8" y1="771.5" x2="1618.2" y2="845.6" stroke="#000" stroke-width="0.8"/>
<line x1="1578.8" y1="845.6" x2="1618.2" y2="771.5" stroke="#000" stroke-width="0.8"/>
<ellipse cx="1598.5" cy="808.55" rx="2.1" ry="3.4" fill="#fff" stroke="#000" stroke-width="0.9"/>
<polygon points="1595.5,840.4 1601.5,840.4 1598.5,844.7" fill="#fff" stroke="#000" stroke-width="0.8"/>
<rect x="1643.5" y="704.5" width="31" height="15" fill="none" stroke="#000" stroke-width="1" rx="1.2"/>
<path d="M1651.4 719.5 C1646.81 730.22 1648.34 746.3 1659.05 746.3 C1669.76 746.3 1671.29 730.22 1666.7 719.5" fill="none" stroke="#000" stroke-width="1"/>
<rect x="1646.5" y="833.5" width="33" height="19" fill="none" stroke="#000" stroke-width="1"/>
<ellipse cx="1663.2" cy="842.6" rx="12" ry="8.9" fill="none" stroke="#000" stroke-width="0.8"/>
<ellipse cx="1663.2" cy="842.6" rx="10.6" ry="7.5" fill="none" stroke="#000" stroke-width="0.7"/>
<circle cx="1663.2" cy="847.3" r="1.1" fill="none" stroke="#000" stroke-width="0.8"/>
<rect x="1659.6" y="849.5" width="7.2" height="1.4" fill="none" stroke="#000" stroke-width="0.7"/>
<line x1="1415.8" y1="774.5" x2="1513.2" y2="774.5" stroke="#000" stroke-width="1"/>
<line x1="1415.8" y1="788.5" x2="1513.2" y2="788.5" stroke="#000" stroke-width="1"/>
<line x1="1415.8" y1="802.5" x2="1513.2" y2="802.5" stroke="#000" stroke-width="1"/>
<line x1="1464.5" y1="802.4" x2="1415.8" y2="828.6" stroke="#000" stroke-width="0.9"/>
<line x1="1464.5" y1="802.4" x2="1437.3" y2="850.3" stroke="#000" stroke-width="0.9"/>
<line x1="1464.5" y1="802.4" x2="1464.8" y2="850.3" stroke="#000" stroke-width="0.9"/>
<line x1="1464.5" y1="802.4" x2="1491.8" y2="850.3" stroke="#000" stroke-width="0.9"/>
<line x1="1464.5" y1="802.4" x2="1513.2" y2="828.6" stroke="#000" stroke-width="0.9"/>
<rect x="1415.8" y="760.1" width="49.7" height="2.9" fill="#000"/>
<rect x="1462.9" y="760.5" width="3.6" height="42.1" fill="#000"/>
<circle cx="1464.7" cy="760.9" r="3" fill="#000" stroke="none" stroke-width="1"/>
<circle cx="1464.5" cy="802.4" r="3" fill="#000" stroke="none" stroke-width="1"/>
<line x1="1488.5" y1="762.3" x2="1488.5" y2="790.22" stroke="#000" stroke-width="0.9"/>
<polygon points="1488.5,797.1 1483.6,788.5 1493.4,788.5" fill="#000"/>
<text x="1496.6" y="749.5" font-size="16.3" font-weight="bold" text-anchor="middle" fill="#000">Down</text>
<rect x="1398.2" y="469.2" width="17.6" height="398.8" fill="#000"/>
<rect x="1398.2" y="850.3" width="315.8" height="17.7" fill="#000"/>
<rect x="1398.2" y="469.2" width="79.7" height="17.5" fill="#000"/>
<rect x="1541.7" y="469.2" width="172.3" height="17.5" fill="#000"/>
<rect x="1477.9" y="469.2" width="63.8" height="17.5" fill="#fff"/>
<line x1="1477.9" y1="469.5" x2="1541.7" y2="469.5" stroke="#000" stroke-width="1"/>
<line x1="1477.9" y1="478.5" x2="1541.7" y2="478.5" stroke="#000" stroke-width="1"/>
<line x1="1477.9" y1="486.5" x2="1541.7" y2="486.5" stroke="#000" stroke-width="1"/>
<line x1="1477.5" y1="469.2" x2="1477.5" y2="486.7" stroke="#000" stroke-width="1"/>
<line x1="1541.5" y1="469.2" x2="1541.5" y2="486.7" stroke="#000" stroke-width="1"/>
<rect x="1696.3" y="469.2" width="17.7" height="23.5" fill="#000"/>
<rect x="1696.3" y="523" width="17.7" height="131" fill="#000"/>
<rect x="1696.3" y="683.7" width="17.7" height="61.3" fill="#000"/>
<rect x="1696.3" y="809" width="17.7" height="59" fill="#000"/>
<rect x="1696.3" y="492.7" width="17.7" height="30.3" fill="#fff"/>
<line x1="1696.5" y1="492.7" x2="1696.5" y2="523" stroke="#000" stroke-width="1"/>
<line x1="1705.5" y1="492.7" x2="1705.5" y2="523" stroke="#000" stroke-width="1"/>
<line x1="1713.5" y1="492.7" x2="1713.5" y2="523" stroke="#000" stroke-width="1"/>
<line x1="1696.3" y1="492.5" x2="1714" y2="492.5" stroke="#000" stroke-width="1"/>
<line x1="1696.3" y1="522.5" x2="1714" y2="522.5" stroke="#000" stroke-width="1"/>
<rect x="1696.3" y="654" width="17.7" height="29.7" fill="#fff"/>
<line x1="1696.5" y1="654" x2="1696.5" y2="683.7" stroke="#000" stroke-width="1"/>
<line x1="1705.5" y1="654" x2="1705.5" y2="683.7" stroke="#000" stroke-width="1"/>
<line x1="1713.5" y1="654" x2="1713.5" y2="683.7" stroke="#000" stroke-width="1"/>
<line x1="1696.3" y1="654.5" x2="1714" y2="654.5" stroke="#000" stroke-width="1"/>
<line x1="1696.3" y1="683.5" x2="1714" y2="683.5" stroke="#000" stroke-width="1"/>
<rect x="1696.3" y="745" width="17.7" height="64" fill="#fff"/>
<line x1="1696.5" y1="745" x2="1696.5" y2="809" stroke="#000" stroke-width="1"/>
<line x1="1705.5" y1="745" x2="1705.5" y2="809" stroke="#000" stroke-width="1"/>
<line x1="1713.5" y1="745" x2="1713.5" y2="809" stroke="#000" stroke-width="1"/>
<line x1="1696.3" y1="744.5" x2="1714" y2="744.5" stroke="#000" stroke-width="1"/>
<line x1="1696.3" y1="808.5" x2="1714" y2="808.5" stroke="#000" stroke-width="1"/>
<rect x="1415.8" y="621.8" width="93" height="9.2" fill="#000"/>
<rect x="1499.2" y="621.8" width="9.6" height="85.2" fill="#000"/>
<rect x="1415.8" y="698" width="41.8" height="9" fill="#000"/>
<rect x="1488.3" y="698" width="28.5" height="9" fill="#000"/>
<rect x="1554.1" y="698" width="31" height="9" fill="#000"/>
<rect x="1623.2" y="698" width="73.1" height="9" fill="#000"/>
<rect x="1567.1" y="707" width="9.7" height="143.3" fill="#000"/>
<rect x="1513.2" y="774" width="9.5" height="76.3" fill="#000"/>
<rect x="1513.2" y="774" width="16.4" height="8.6" fill="#000"/>
<rect x="1560.6" y="774" width="7" height="8.6" fill="#000"/>
<line x1="1418" y1="503.5" x2="1449.6" y2="503.5" stroke="#808080" stroke-width="1" stroke-dasharray="6.4 6.2"/>
<line x1="1418" y1="520.5" x2="1449.6" y2="520.5" stroke="#808080" stroke-width="1" stroke-dasharray="6.4 6.2"/>
<line x1="1418" y1="537.5" x2="1449.6" y2="537.5" stroke="#808080" stroke-width="1" stroke-dasharray="6.4 6.2"/>
<line x1="1418" y1="554.5" x2="1449.6" y2="554.5" stroke="#808080" stroke-width="1" stroke-dasharray="6.4 6.2"/>
<line x1="1418" y1="571.5" x2="1449.6" y2="571.5" stroke="#808080" stroke-width="1" stroke-dasharray="6.4 6.2"/>
<line x1="1418" y1="588.5" x2="1449.6" y2="588.5" stroke="#808080" stroke-width="1" stroke-dasharray="6.4 6.2"/>
<line x1="1418" y1="605.5" x2="1449.6" y2="605.5" stroke="#808080" stroke-width="1" stroke-dasharray="6.4 6.2"/>
<line x1="1418" y1="638.5" x2="1449.6" y2="638.5" stroke="#808080" stroke-width="1" stroke-dasharray="6.4 6.2"/>
<line x1="1418" y1="655.5" x2="1449.6" y2="655.5" stroke="#808080" stroke-width="1" stroke-dasharray="6.4 6.2"/>
<line x1="1418" y1="672.5" x2="1449.6" y2="672.5" stroke="#808080" stroke-width="1" stroke-dasharray="6.4 6.2"/>
<line x1="1418" y1="689.5" x2="1449.6" y2="689.5" stroke="#808080" stroke-width="1" stroke-dasharray="6.4 6.2"/>
<line x1="1418" y1="723.5" x2="1449.6" y2="723.5" stroke="#808080" stroke-width="1" stroke-dasharray="6.4 6.2"/>
<line x1="1418" y1="740.5" x2="1449.6" y2="740.5" stroke="#808080" stroke-width="1" stroke-dasharray="6.4 6.2"/>
<line x1="1418" y1="757.5" x2="1449.6" y2="757.5" stroke="#808080" stroke-width="1" stroke-dasharray="6.4 6.2"/>
<line x1="1418" y1="774.5" x2="1449.6" y2="774.5" stroke="#808080" stroke-width="1" stroke-dasharray="6.4 6.2"/>
<line x1="1418" y1="791.5" x2="1449.6" y2="791.5" stroke="#808080" stroke-width="1" stroke-dasharray="6.4 6.2"/>
<line x1="1418" y1="808.5" x2="1449.6" y2="808.5" stroke="#808080" stroke-width="1" stroke-dasharray="6.4 6.2"/>
<line x1="1418" y1="825.5" x2="1449.6" y2="825.5" stroke="#808080" stroke-width="1" stroke-dasharray="6.4 6.2"/>
<line x1="1418" y1="841.5" x2="1449.6" y2="841.5" stroke="#808080" stroke-width="1" stroke-dasharray="6.4 6.2"/>
<line x1="1449.5" y1="486.7" x2="1449.5" y2="850.3" stroke="#808080" stroke-width="1" stroke-dasharray="6.2 6.25" stroke-dashoffset="1.8"/>
<line x1="1489.4" y1="706.2" x2="1467.3" y2="728" stroke="#000" stroke-width="2.3"/>
<path d="M1467.3 728 A31.04 31.04 0 0 1 1457.6 706.2" fill="none" stroke="#000" stroke-width="1"/>
<line x1="1516.3" y1="702.5" x2="1516.3" y2="657.6" stroke="#000" stroke-width="2.3"/>
<path d="M1516.3 657.6 A44.9 44.9 0 0 1 1554.5 698" fill="none" stroke="#000" stroke-width="1"/>
<line x1="1585.1" y1="701.4" x2="1585.1" y2="744.1" stroke="#000" stroke-width="2.3"/>
<path d="M1585.1 744.1 A42.7 42.7 0 0 0 1623.2 707" fill="none" stroke="#000" stroke-width="1"/>
<line x1="1561.6" y1="774.2" x2="1539.2" y2="752.3" stroke="#000" stroke-width="2.3"/>
<path d="M1539.2 752.3 A31.33 31.33 0 0 0 1529.6 774" fill="none" stroke="#000" stroke-width="1"/>
<line x1="1635.5" y1="505.5" x2="1635.5" y2="493.58" stroke="#000" stroke-width="0.9"/>
<polygon points="1635.8,486.7 1640.7,495.3 1630.9,495.3" fill="#000"/>
<line x1="1434.6" y1="528.5" x2="1422.68" y2="528.5" stroke="#000" stroke-width="0.9"/>
<polygon points="1415.8,528.4 1424.4,523.5 1424.4,533.3" fill="#000"/>
<line x1="1677.5" y1="528.5" x2="1689.42" y2="528.5" stroke="#000" stroke-width="0.9"/>
<polygon points="1696.3,528.4 1687.7,533.3 1687.7,523.5" fill="#000"/>
<line x1="1635.5" y1="679.1" x2="1635.5" y2="690.92" stroke="#000" stroke-width="0.9"/>
<polygon points="1635.8,697.8 1630.9,689.2 1640.7,689.2" fill="#000"/>
<text x="1589.6" y="566.4" font-size="18.5" font-weight="bold" text-anchor="middle" fill="#000">Bedroom 1</text>
<text x="1589.6" y="587.5" font-size="18.5" text-anchor="middle" fill="#000">15'10 (4.83)</text>
<text x="1589.6" y="608.6" font-size="18.5" text-anchor="middle" fill="#000">x 12'5 (3.78)</text>
<text x="1617.8" y="911.8" font-size="20.7" font-weight="bold" text-anchor="middle" fill="#000">SECOND FLOOR</text>
</g>
<g id="compass">
<polygon points="1027.44,191.71 981.47,216.91 1012,241.81" fill="#000"/>
<path d="M1012.79 249.57 L1037.99 295.54 L987.89 280.1 M1037.99 295.54 L1005.6 269.12" fill="none" stroke="#222" stroke-width="0.7"/>
<path d="M980.13 280.89 L934.16 306.09 L949.6 255.99 M934.16 306.09 L960.58 273.7" fill="none" stroke="#222" stroke-width="0.7"/>
<path d="M948.81 248.23 L923.61 202.26 L973.71 217.7 M923.61 202.26 L956 228.68" fill="none" stroke="#222" stroke-width="0.7"/>
<circle cx="980.8" cy="248.9" r="32" fill="#fff" stroke="#222" stroke-width="0.8"/>
<circle cx="980.8" cy="248.9" r="27.3" fill="#fff" stroke="#222" stroke-width="0.8"/>
<text x="0" y="0" font-size="38" font-weight="bold" text-anchor="middle" transform="translate(981.2 249.2) rotate(39.2) translate(0 13.6)">N</text>
</g>
<g id="legend">
<rect x="1300.5" y="317.5" width="192" height="82" fill="none" stroke="#777" stroke-width="1" stroke-dasharray="6.2 6.2"/>
<line x1="1326.5" y1="317.5" x2="1326.5" y2="399.4" stroke="#777" stroke-width="1" stroke-dasharray="6.2 6.2"/>
<line x1="1361.5" y1="317.5" x2="1361.5" y2="399.4" stroke="#777" stroke-width="1" stroke-dasharray="6.2 6.2"/>
<line x1="1396.5" y1="317.5" x2="1396.5" y2="399.4" stroke="#777" stroke-width="1" stroke-dasharray="6.2 6.2"/>
<line x1="1431.5" y1="317.5" x2="1431.5" y2="399.4" stroke="#777" stroke-width="1" stroke-dasharray="6.2 6.2"/>
<line x1="1465.5" y1="317.5" x2="1465.5" y2="399.4" stroke="#777" stroke-width="1" stroke-dasharray="6.2 6.2"/>
<text x="1395.2" y="352.6" font-size="20.6" font-weight="bold" text-anchor="middle" fill="#000">Denotes restricted</text>
<text x="1395.6" y="375.6" font-size="20.6" font-weight="bold" text-anchor="middle" fill="#000">head height</text>
</g>
<g id="footer">
<path d="M396.1 1151.4 H442.8 V1209.6 H385.1 V1162.4 A11 11 0 0 1 396.1 1151.4 Z" fill="#666" stroke="none" stroke-width="0"/>
<path d="M446.4 1152.4 H559.2 V1196.6 A12 12 0 0 1 547.2 1208.6 H446.4 Z" fill="#fff" stroke="#616161" stroke-width="1.9"/>
<g transform="translate(383 1148) scale(0.05157)">
<circle cx="600" cy="500" r="236" fill="#fff"/>
<path d="M512 262 L548 300 L575 268 L603 300 L632 268 L660 300 L700 262 L674 372 L712 402 L780 468 L742 500 L795 528 L742 540 L700 578 L640 520 L600 440 L560 372 L545 372 Z" fill="#666"/>
<path d="M535 385 C450 400 398 520 438 620 C458 672 498 706 522 716 C478 640 478 520 562 450 Z" fill="#666"/>
<path d="M575 470 C556 540 598 640 640 730 L700 700 C652 622 602 540 606 470 Z" fill="#666"/>
<path d="M662 405 L705 418 L662 425 Z" fill="#fff"/>
<path d="M705 500 L745 505 L715 535 Z" fill="#fff"/>
</g>
<text x="394.8" y="1199.1" font-size="13.7" font-weight="bold" fill="#fff" stroke="#fff" stroke-width="0.5" textLength="38.2" lengthAdjust="spacingAndGlyphs">RICS</text>
<circle cx="434.4" cy="1190.8" r="0.7" fill="#fff" stroke="none" stroke-width="1"/>
<text x="456.7" y="1170.8" font-size="16.2" font-weight="bold" fill="#595959" textLength="62.7" lengthAdjust="spacingAndGlyphs">Certified</text>
<text x="456.7" y="1186.15" font-size="16.2" font-weight="bold" fill="#595959" textLength="63.6" lengthAdjust="spacingAndGlyphs">Property</text>
<text x="456.7" y="1201.5" font-size="16.2" font-weight="bold" fill="#595959" textLength="68.2" lengthAdjust="spacingAndGlyphs">Measurer</text>
<text x="571.4" y="1164.9" font-size="15" text-anchor="start" fill="#666">Floor plan produced in accordance with RICS Property Measurement Standards incorporating</text>
<text x="571.4" y="1182.8" font-size="15" text-anchor="start" fill="#666">International Property Measurement Standards (IPMS2 Residential).</text>
<text x="1037" y="1182.8" font-size="15" text-anchor="start" fill="#666">©</text>
<text x="1051" y="1182.8" font-size="15.5" fill="#7a7a7a" textLength="63.5" lengthAdjust="spacingAndGlyphs">nichecom</text>
<line x1="1071.5" y1="1168" x2="1071.5" y2="1174" stroke="#777" stroke-width="1"/>
<text x="1118.4" y="1182.8" font-size="15" text-anchor="start" fill="#666">2022.</text>
<text x="571.4" y="1200.7" font-size="15" text-anchor="start" fill="#666">Produced for Winkworth.</text>
<text x="747.5" y="1200.7" font-size="15" text-anchor="start" fill="#666">REF:</text>
<text x="787.5" y="1200.7" font-size="15" text-anchor="start" fill="#666">881561</text>
</g>
</svg>
</body></html>
